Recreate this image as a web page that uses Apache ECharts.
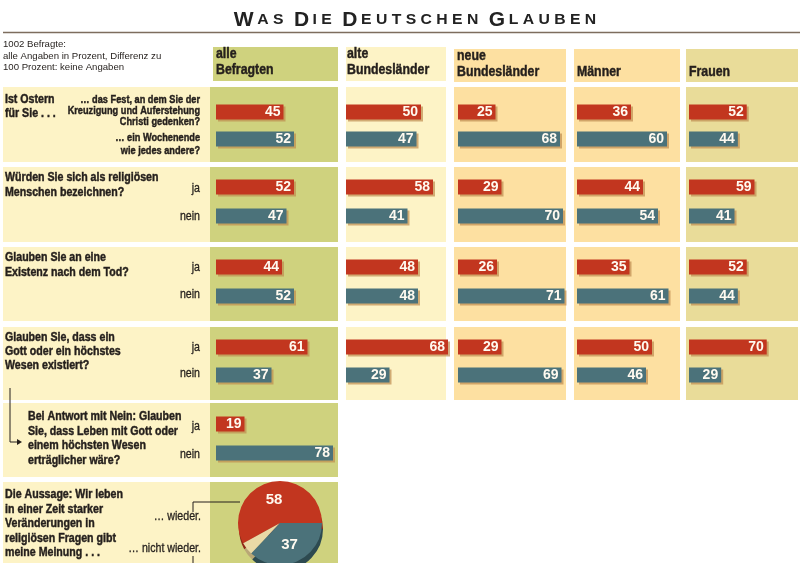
<!DOCTYPE html>
<html><head><meta charset="utf-8">
<script src="https://cdn.jsdelivr.net/npm/echarts@6/dist/echarts.min.js"></script>
<style>html,body{margin:0;padding:0;background:#fff}#c{width:800px;height:563px}</style>
</head><body><div id="c"></div><script>
// ---- data ----
const groups = ['alle Befragten', 'alte Bundesländer', 'neue Bundesländer', 'Männer', 'Frauen'];
const osternFest = [45, 50, 25, 36, 52];
const osternWochenende = [52, 47, 68, 60, 44];
const religioesJa = [52, 58, 29, 44, 59];
const religioesNein = [47, 41, 70, 54, 41];
const todJa = [44, 48, 26, 35, 52];
const todNein = [52, 48, 71, 61, 44];
const gottJa = [61, 68, 29, 50, 70];
const gottNein = [37, 29, 69, 46, 29];
const ertraeglicherAlle = [19, 78]; // ja, nein (alle Befragten)
const pieNames = ['… wieder.', 'keine Angabe', '… nicht wieder.'];
const pieValues = [58, 5, 37];

// ---- layout / style ----
const RED = '#c2361f', BLUE = '#4b727a', INK = '#241f1c';
const FONT = "'Liberation Sans',Arial,sans-serif";
const colBarX = [216, 346, 458, 577, 689];
const colPanel = [[210, 128], [346, 100], [454, 112], [574, 106], [686, 112]];
const colColor = ['#cfd27e', '#fdf3c6', '#fde0a1', '#fde0a1', '#e9dc99'];
const rowPanel = [[87, 75], [167, 75], [247, 74], [327, 73], [403, 74], [482, 81]];
const rowCenters = [[112, 139], [187, 216], [267, 296], [347, 375], [424, 453]];
const rowsData = [[osternFest, osternWochenende], [religioesJa, religioesNein], [todJa, todNein], [gottJa, gottNein]];

const grids = [], xAxes = [], yAxes = [], series = [];
function addCell(xLeft, centers, a, b) {
  const d = centers[1] - centers[0];
  const idx = grids.length;
  grids.push({left: xLeft, top: centers[0] - d / 2, width: 150, height: 2 * d, containLabel: false});
  xAxes.push({type: 'value', gridIndex: idx, min: 0, max: 100, show: false});
  yAxes.push({type: 'category', gridIndex: idx, data: ['ja', 'nein'], inverse: true, show: false});
  series.push({
    type: 'bar', xAxisIndex: idx, yAxisIndex: idx, barWidth: 15, silent: true, z: 5,
    itemStyle: {shadowColor: 'rgba(190,140,80,0.7)', shadowOffsetX: 2, shadowOffsetY: 2, shadowBlur: 0},
    label: {show: true, position: 'insideRight', distance: 3, color: '#fffaf0', fontWeight: 'bold', fontSize: 14, fontFamily: FONT},
    data: [{value: a, itemStyle: {color: RED}}, {value: b, itemStyle: {color: BLUE}}]
  });
}
rowsData.forEach((rd, r) => {
  groups.forEach((g, c) => addCell(colBarX[c], rowCenters[r], rd[0][c], rd[1][c]));
});
addCell(colBarX[0], rowCenters[4], ertraeglicherAlle[0], ertraeglicherAlle[1]);

// ---- graphic ----
const G = [];
function rect(x, y, w, h, fill) { G.push({type: 'rect', z: 0, silent: true, shape: {x, y, width: w, height: h}, style: {fill}}); }
function txt(x, y, text, opt) {
  opt = opt || {};
  const w = opt.weight || 'bold';
  G.push({type: 'text', z: 100, silent: true, x, y, scaleX: opt.sx || 0.85,
    style: {text, fill: INK, stroke: opt.stroke === 0 ? null : INK, lineWidth: opt.stroke === undefined ? (w === 'bold' ? 0.45 : 0.3) : opt.stroke,
    font: w + ' ' + (opt.size || 12.5) + 'px ' + FONT,
    textAlign: opt.align || 'left', textVerticalAlign: 'middle'}});
}
function lines(x, y0, pitch, arr, opt) { arr.forEach((t, i) => txt(x, y0 + i * pitch, t, opt)); }
function poly(pts, w) { G.push({type: 'polyline', z: 100, silent: true, shape: {points: pts}, style: {stroke: INK, lineWidth: w || 1, fill: null}}); }

// panels
rowPanel.forEach((rp, r) => {
  rect(3, rp[0], 207, rp[1], '#fdf3c6');
  colPanel.forEach((cp, c) => {
    if (r >= 4 && c > 0) return;
    rect(cp[0], rp[0], cp[1], rp[1], colColor[c]);
  });
});
// header boxes
rect(213, 47, 125, 34, colColor[0]);
rect(346, 47, 100, 34, colColor[1]);
rect(454, 49, 112, 33, colColor[2]);
rect(574, 49, 106, 33, colColor[3]);
rect(686, 49, 112, 33, colColor[4]);
const H = {size: 14.5};
txt(216, 54, 'alle', H); txt(216, 70, 'Befragten', H);
txt(347, 54, 'alte', H); txt(347, 70, 'Bundesländer', H);
txt(457, 56, 'neue', H); txt(457, 72, 'Bundesländer', H);
txt(577, 72, 'Männer', H); txt(689, 72, 'Frauen', H);

// title
G.push({type: 'text', z: 100, silent: true, x: 415, y: 20, scaleX: 1.05, style: {
  text: '{b|W} {s|A S}   {b|D} {s|I E}   {b|D} {s|E U T S C H E N}   {b|G} {s|L A U B E N}',
  textAlign: 'center', textVerticalAlign: 'middle', fill: '#222',
  rich: {b: {font: "bold 20px 'Liberation Sans',Arial,sans-serif", fill: '#222'},
         s: {font: "bold 15px 'Liberation Sans',Arial,sans-serif", fill: '#222'}}}});
G.push({type: 'line', z: 100, silent: true, shape: {x1: 3, y1: 32.5, x2: 800, y2: 32.5}, style: {stroke: '#7d6d5e', lineWidth: 1.3}});

// subtitle
lines(3, 44.5, 11.5, ['1002 Befragte:', 'alle Angaben in Prozent, Differenz zu', '100 Prozent: keine Angaben'],
  {weight: 'normal', size: 9.6, sx: 1, stroke: 0});

// questions
lines(5, 100, 14, ['Ist Ostern', 'für Sie . . .']);
lines(200, 99.5, 11.3, ['… das Fest, an dem Sie der', 'Kreuzigung und Auferstehung', 'Christi gedenken?'], {align: 'right', size: 11.5, sx: 0.8});
lines(200, 138, 12.5, ['… ein Wochenende', 'wie jedes andere?'], {align: 'right', size: 11.5, sx: 0.8});

lines(5, 178, 15, ['Würden Sie sich als religiösen', 'Menschen bezeichnen?']);
lines(5, 258, 15, ['Glauben Sie an eine', 'Existenz nach dem Tod?']);
lines(5, 338, 14, ['Glauben Sie, dass ein', 'Gott oder ein höchstes', 'Wesen existiert?']);
lines(28, 417, 14.5, ['Bei Antwort mit Nein: Glauben', 'Sie, dass Leben mit Gott oder', 'einem höchsten Wesen', 'erträglicher wäre?']);
const JN = {align: 'right', weight: 'normal'};
[[189, 217], [268, 295], [348, 374], [427, 455]].forEach(p => { txt(200, p[0], 'ja', JN); txt(200, p[1], 'nein', JN); });

lines(5, 495, 14.5, ['Die Aussage: Wir leben', 'in einer Zeit starker', 'Veränderungen in', 'religiösen Fragen gibt', 'meine Meinung . . .']);
txt(201, 517, '… wieder.', JN);
txt(201, 549, '… nicht wieder.', JN);
poly([[193, 512], [193, 502], [240, 502]]);
poly([[193, 556], [193, 563]]);
// arrow for follow-up question
poly([[10, 388], [10, 442], [19, 442]]);
G.push({type: 'polygon', z: 100, silent: true, shape: {points: [[17, 439], [22, 442], [17, 445]]}, style: {fill: INK}});

// pie
const pieColors = [RED, '#ead9a6', BLUE];
const pieSide = ['#8e2716', '#b9a776', '#2d4a50'];
series.push({
  type: 'pie', center: [281, 529], radius: 42, startAngle: 0, clockwise: false, silent: true, z: 3,
  label: {show: false}, labelLine: {show: false},
  data: pieValues.map((v, i) => ({value: v, name: pieNames[i], itemStyle: {color: pieSide[i]}}))
});
series.push({
  type: 'pie', center: [280, 523], radius: 42, startAngle: 0, clockwise: false, silent: true, z: 4,
  labelLine: {show: false},
  label: {show: true, position: 'inside', formatter: '{c}', color: '#fffaf0', fontWeight: 'bold', fontSize: 15, fontFamily: FONT},
  data: pieValues.map((v, i) => ({value: v, name: pieNames[i], itemStyle: {color: pieColors[i]}, label: {show: i !== 1}}))
});

const chart = echarts.init(document.getElementById('c'), null, {renderer: 'canvas'});
chart.setOption({
  animation: false, backgroundColor: '#ffffff',
  grid: grids, xAxis: xAxes, yAxis: yAxes, series,
  graphic: {elements: G}
});
</script></body></html>
